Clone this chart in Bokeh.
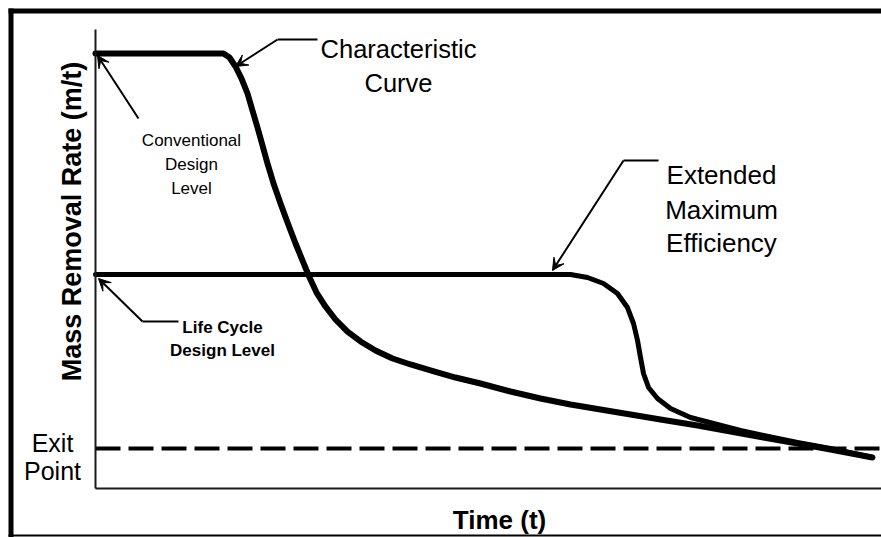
from bokeh.plotting import figure
from bokeh.models import Range1d, Arrow, VeeHead, BoxAnnotation, FixedTicker, ColumnDataSource
from bokeh.core.properties import value
from bokeh.embed import file_html
from bokeh.resources import INLINE

# ---- data (conceptual units) ----
time_char = [0.0, 1.628, 1.705, 1.781, 1.858, 1.934, 1.997, 2.061, 2.125, 2.188, 2.265,
             2.354, 2.443, 2.545, 2.634, 2.723, 2.812, 2.926, 3.053, 3.206, 3.372, 3.562,
             3.779, 4.008, 4.262, 4.580, 4.898, 5.280, 5.662, 6.043, 6.425, 6.807, 7.188,
             7.659, 8.079, 8.499, 8.931, 9.351, 9.885]
rate_char = [9.477, 9.477, 9.390, 9.194, 8.932, 8.606, 8.235, 7.865, 7.473, 7.081, 6.645,
             6.209, 5.795, 5.338, 4.967, 4.597, 4.270, 3.965, 3.682, 3.420, 3.203, 3.007,
             2.832, 2.702, 2.571, 2.418, 2.288, 2.113, 1.961, 1.830, 1.721, 1.612, 1.503,
             1.373, 1.242, 1.111, 0.980, 0.850, 0.675]
time_ext = [0.0, 6.043, 6.260, 6.463, 6.641, 6.768, 6.845, 6.896, 6.934, 6.972, 7.036,
            7.150, 7.316, 7.570, 7.863, 8.206, 8.499, 8.931, 9.351, 9.885]
rate_ext = [4.662, 4.662, 4.597, 4.466, 4.248, 3.943, 3.595, 3.224, 2.854, 2.505, 2.200,
            1.961, 1.743, 1.547, 1.416, 1.264, 1.155, 1.002, 0.871, 0.675]
time_axis = [0.0, 10.0]
exit_level = [0.87, 0.87]

SANS = "Liberation Sans"

W, H = 881, 537
p = figure(width=W, height=H, output_backend="svg", toolbar_location=None,
           x_range=Range1d(-1.2087, 10.0), y_range=Range1d(-1.0675, 10.632), title=None,
           min_border=0)
p.outline_line_color = None
p.grid.visible = False
p.background_fill_color = "white"
p.border_fill_color = "white"
for ax in (p.xaxis[0], p.yaxis[0]):
    ax.ticker = FixedTicker(ticks=[])
    ax.major_tick_line_color = None
    ax.minor_tick_line_color = None
    ax.major_label_text_font_size = "0px"
    ax.axis_line_width = 2
    ax.axis_line_color = "#1a1a1a"
    ax.fixed_location = 0
    ax.bounds = (0, 10)

# curves
p.line(time_axis, exit_level, line_color="black", line_width=4, line_dash="25 8")
p.line(time_char, rate_char, line_width=6, line_color="black", line_join="round", line_cap="round")
p.line(time_ext, rate_ext, line_width=5, line_color="black", line_join="round", line_cap="round")

# outer border (canvas units)
def box(l, r, t, b):
    p.add_layout(BoxAnnotation(left=l, right=r, top=t, bottom=b,
                               left_units="canvas", right_units="canvas",
                               top_units="canvas", bottom_units="canvas",
                               fill_color="black", fill_alpha=1.0, line_color=None,
                               level="overlay"))
box(8, W, 8, 13)
box(8, 13, 8, H)
box(8, W, 534, 536)

# text annotations
txt = dict(x=[], y=[], text=[], size=[], style=[], angle=[])
def lab(x, y, text, size, style="normal", angle=0.0):
    txt["x"].append(x); txt["y"].append(y); txt["text"].append(text)
    txt["size"].append(size); txt["style"].append(style); txt["angle"].append(angle)

lab(3.855, 9.586, "Characteristic", "25.5px")
lab(3.855, 8.824, "Curve", "25.5px")
lab(1.221, 7.582, "Conventional", "17px")
lab(1.221, 7.059, "Design", "17px")
lab(1.221, 6.536, "Level", "17px")
lab(7.964, 6.841, "Extended", "26px")
lab(7.964, 6.078, "Maximum", "26px")
lab(7.964, 5.338, "Efficiency", "26px")
lab(1.616, 3.508, "Life Cycle", "17px", style="bold")
lab(1.616, 3.007, "Design Level", "17px", style="bold")
lab(-0.547, 1.002, "Exit", "25px")
lab(-0.547, 0.392, "Point", "25px")
lab(5.140, -0.697, "Time (t)", "26px", style="bold")
lab(-0.305, 5.817, "Mass Removal Rate (m/t)", "27px", style="bold", angle=1.5708)
p.text(x="x", y="y", text="text", text_font_size="size", text_font=value(SANS),
       text_font_style="style", angle="angle", text_align="center",
       text_baseline="alphabetic", text_color="black", source=ColumnDataSource(txt))

# arrows
def seg(x0, y0, x1, y1, head=True):
    end = VeeHead(size=12, fill_color="black", line_color="black", line_width=1) if head else None
    p.add_layout(Arrow(end=end, x_start=x0, y_start=y0, x_end=x1, y_end=y1,
                       line_width=2, line_color="black"))

seg(2.824, 9.782, 2.316, 9.782, head=False)
seg(2.316, 9.782, 1.781, 9.194)
seg(0.547, 8.061, 0.025, 9.434)
seg(1.056, 3.638, 0.598, 3.638, head=False)
seg(0.598, 3.638, 0.038, 4.575)
seg(7.163, 7.146, 6.718, 7.146, head=False)
seg(6.718, 7.146, 5.814, 4.749)

open("out.html", "w").write(file_html(p, INLINE))
